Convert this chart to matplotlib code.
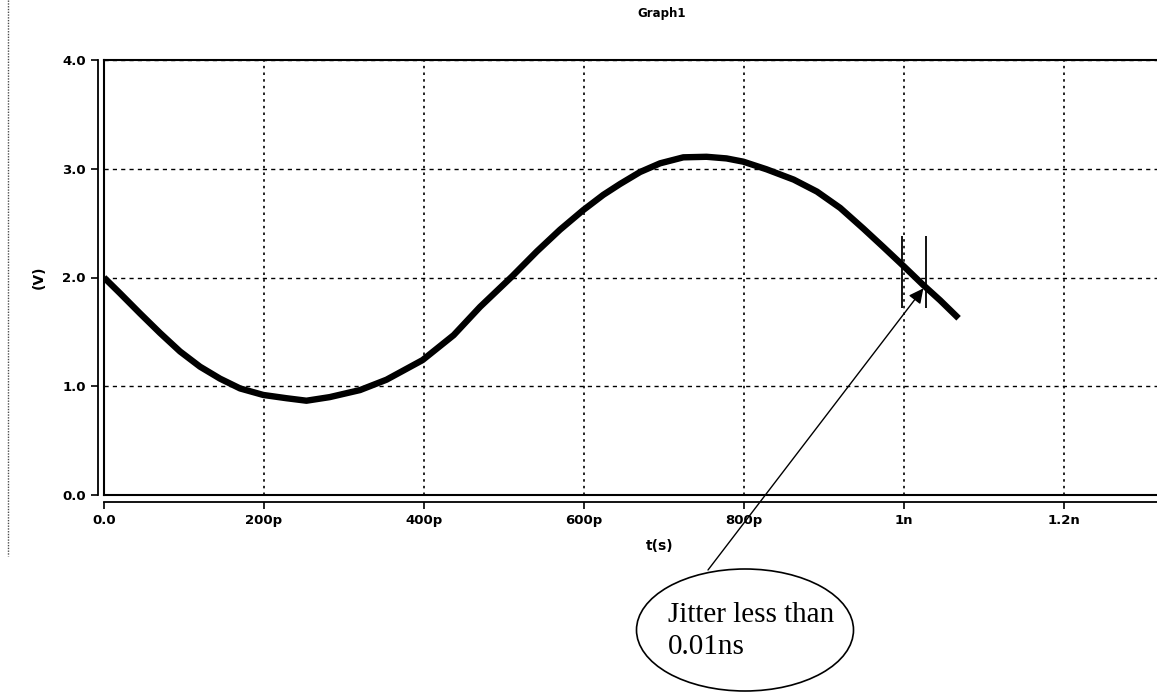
import numpy as np
import matplotlib
matplotlib.use("Agg")
import matplotlib.pyplot as plt
from matplotlib.patches import Ellipse

# waveform (time in ps, voltage in V)
t_ps = [0, 20, 45, 70, 95, 120, 145, 170, 199, 228, 253, 282, 320, 353, 398,
        437, 470, 510, 541, 570, 599, 624, 645, 670, 695, 724, 753, 778, 799,
        828, 862, 891, 920, 949, 974, 1000, 1024, 1045, 1068]
volts = [2.0, 1.855, 1.67, 1.49, 1.32, 1.18, 1.07, 0.98, 0.92, 0.89, 0.867, 0.90,
         0.965, 1.06, 1.24, 1.47, 1.73, 2.01, 2.24, 2.44, 2.62, 2.76, 2.86, 2.97,
         3.05, 3.105, 3.11, 3.095, 3.065, 2.995, 2.90, 2.79, 2.64, 2.45, 2.28,
         2.10, 1.93, 1.79, 1.625]

# jitter markers (two edges of the crossing window)
jit_t = [997, 1027]
jit_lo, jit_hi = 1.72, 2.38
arrow_tip = (1024, 1.90)

x_ticks = [0, 200, 400, 600, 800, 1000, 1200]
x_labels = ["0.0", "200p", "400p", "600p", "800p", "1n", "1.2n"]
y_ticks = [0, 1, 2, 3, 4]
y_labels = ["0.0", "1.0", "2.0", "3.0", "4.0"]

plt.rcParams['font.family'] = ['DejaVu Sans']
plt.rcParams['font.weight'] = 'bold'   # simulator uses bold for everything on the plot
plt.rcParams['axes.labelweight'] = 'bold'

fig = plt.figure(figsize=(11.57, 6.96), dpi=100)
ax = fig.add_axes([104/1157, 201/696, 1053/1157, 435/696])

ax.plot(t_ps, volts, color="black", lw=4.6, solid_capstyle="butt",
        solid_joinstyle="round")
ax.vlines(jit_t, jit_lo, jit_hi, color="black", lw=1.3)

ax.set_xlim(0, 1316)
ax.set_ylim(0, 4)
ax.tick_params(axis="both", length=5, width=1.2, color="black", pad=4,
               labelsize=9.5)
ax.set_xticks(x_ticks)
ax.set_xticklabels(x_labels)
ax.set_yticks(y_ticks)
ax.set_yticklabels(y_labels)

# grid: dotted verticals, dashed horizontals
ax.xaxis.grid(True, color="black", ls=(0, (1.5, 2.5)), lw=1.2)
ax.yaxis.grid(True, color="black", ls=(0, (3, 3)), lw=1.0)
ax.set_axisbelow(True)

# double frame lines like the simulator output
ax.spines["right"].set_visible(False)
ax.spines["top"].set_linewidth(1.5)
ax.spines["left"].set_position(("outward", 4))
ax.spines["bottom"].set_position(("outward", 5))
ax.spines["left"].set_linewidth(1.3)
ax.spines["bottom"].set_linewidth(1.3)
ax.axhline(0, color="black", lw=1.5, clip_on=False)
ax.axvline(0, color="black", lw=1.5, clip_on=False)

ax.set_xlabel("t(s)", fontsize=10, fontweight="bold")
ax.xaxis.set_label_coords((660 - 104) / 1053, -44 / 435)
ax.set_ylabel("(V)", fontsize=10, fontweight="bold")
ax.yaxis.set_label_coords(-58 / 1053, 0.5)
fig.text(662/1157, 1 - 14/696, "Graph1", fontsize=8.5, fontweight="bold",
         ha="center", va="center")

# faint dotted border on the left of the screenshot
fig.add_artist(plt.Line2D([8/1157, 8/1157], [1, 1 - 556/696], color="0.3",
                          lw=1, ls=(0, (1, 1)), transform=fig.transFigure))

# callout: ellipse + arrow pointing at the crossing
ell = Ellipse((745/1157, 1 - 630/696), 217/1157, 122/696, transform=fig.transFigure,
              fill=False, edgecolor="black", lw=1.2)
fig.add_artist(ell)
ax.annotate("", xy=arrow_tip, xycoords="data",
            xytext=(708/1157, 1 - 570/696), textcoords="figure fraction",
            arrowprops=dict(arrowstyle="-|>", color="black", lw=1.0,
                            mutation_scale=22, shrinkA=0, shrinkB=0),
            annotation_clip=False)
fig.text(668/1157, 1 - 631/696, "Jitter less than\n0.01ns", fontsize=21,
         fontweight="normal", family=["Liberation Serif", "DejaVu Serif"],
         ha="left", va="center", linespacing=1.3)

fig.savefig("out.png", dpi=100)
